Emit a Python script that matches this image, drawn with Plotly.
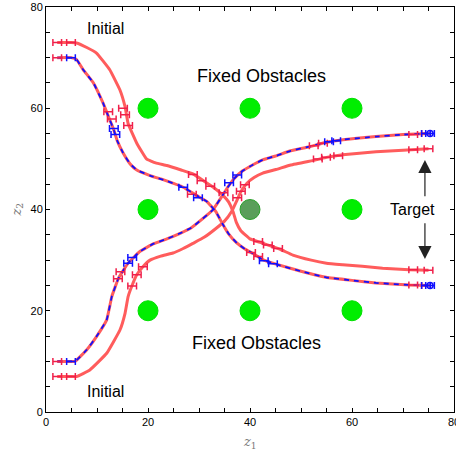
import plotly.graph_objects as go

# ---------------- data ----------------
# obstacle centres
obs_x = [20, 40, 60, 20, 40, 60, 20, 40, 60]
obs_y = [60, 60, 60, 40, 40, 40, 20, 20, 20]
obs_kind = ["fixed", "fixed", "fixed", "fixed", "moving", "fixed", "fixed", "fixed", "fixed"]

# trajectory 1: upper, outer (solid red)
up_out_x = [2.2, 4.9, 6.0, 8.0, 9.9, 12.5, 14.5, 15.5, 16.1, 17.8, 19.7, 21.5, 23.7, 26.5, 28.9,
            31.0, 32.8, 34.5, 35.8, 36.7, 37.3, 38.2, 40.0, 42.0, 44.0, 46.0, 48.4, 52.0, 55.0,
            58.2, 62.0, 66.0, 71.2, 75.0]
up_out_y = [73.0, 73.0, 72.9, 72.0, 70.9, 67.6, 63.6, 60.3, 57.0, 53.1, 50.0, 49.2, 48.7, 47.8, 47.0,
            45.6, 44.4, 43.0, 41.5, 39.5, 37.5, 35.8, 34.2, 33.5, 32.8, 32.1, 31.0, 30.0, 29.4,
            29.1, 28.8, 28.4, 28.1, 28.0]

# trajectory 2: upper, inner (red + blue dashed)
up_in_x = [2.2, 4.9, 6.0, 7.3, 9.3, 11.2, 12.5, 13.2, 14.0, 15.1, 16.5, 17.8, 20.4, 23.5, 26.9,
           29.5, 31.5, 33.3, 34.6, 35.8, 37.4, 39.0, 40.6, 42.5, 45.1, 50.0, 54.9, 60.0, 64.7,
           71.2, 75.0]
up_in_y = [70.0, 70.0, 69.6, 67.6, 65.0, 61.0, 57.7, 56.0, 53.5, 51.2, 49.0, 47.8, 46.7, 45.7, 44.4,
           42.8, 41.6, 39.6, 37.2, 35.2, 33.4, 32.2, 31.3, 30.1, 29.2, 27.8, 26.6, 26.0, 25.5,
           25.1, 25.0]

# trajectory 3: lower, inner (red + blue dashed)
lo_in_x = [2.2, 4.9, 5.7, 8.0, 9.9, 11.9, 12.9, 14.2, 16.1, 18.4, 21.0, 23.7, 26.3, 28.5, 30.5,
           32.7, 34.3, 35.5, 37.0, 38.5, 40.5, 42.5, 45.1, 48.0, 51.6, 55.0, 58.2, 64.7, 70.0, 75.0]
lo_in_y = [10.0, 10.0, 10.0, 12.3, 14.9, 18.2, 22.8, 26.4, 29.4, 31.7, 33.2, 34.2, 35.3, 36.4, 38.0,
           39.9, 42.3, 44.2, 46.2, 47.6, 48.8, 49.8, 50.6, 51.6, 52.4, 53.3, 53.8, 54.4, 54.8, 55.0]

# trajectory 4: lower, outer (solid red)
lo_out_x = [2.2, 4.9, 6.0, 8.6, 11.9, 14.5, 15.5, 16.1, 16.8, 17.8, 19.0, 20.4, 22.5, 24.9, 26.9,
            28.8, 31.0, 33.5, 35.0, 36.4, 37.3, 38.2, 39.4, 40.8, 42.5, 45.1, 48.0, 52.9, 55.0,
            58.2, 64.7, 70.0, 75.0]
lo_out_y = [7.0, 7.0, 7.0, 8.3, 11.6, 16.2, 19.5, 22.8, 24.8, 27.1, 28.7, 30.0, 30.8, 31.4, 32.3,
            33.3, 34.5, 36.4, 37.7, 39.6, 41.5, 43.5, 45.2, 46.3, 47.2, 47.9, 48.8, 49.8, 50.3,
            50.8, 51.4, 51.7, 52.0]

# sample markers (error-bar points)
m_up_out_x = [2.2, 4.9, 15.1, 15.5, 16.1, 28.8, 30.5, 32.2, 41.6, 43.5, 45.5, 72.0, 75.0]
m_up_out_y = [73.0, 73.0, 60.0, 58.7, 56.6, 46.9, 45.7, 44.6, 33.7, 33.0, 32.3, 28.1, 28.0]
m_up_in_red_x = [2.2, 12.2, 12.9, 28.6, 40.2, 41.6, 72.0, 74.5]
m_up_in_red_y = [70.0, 59.3, 57.9, 43.0, 31.5, 30.7, 25.1, 25.0]
m_up_in_blue_x = [4.9, 13.3, 13.6, 26.9, 29.8, 42.7, 44.5, 74.5, 75.3]
m_up_in_blue_y = [70.0, 56.0, 54.8, 44.4, 42.3, 29.9, 29.3, 25.0, 25.0]
m_lo_in_red_x = [2.2, 14.1, 14.6, 34.8, 52.5, 54.3, 72.0, 74.5]
m_lo_in_red_y = [10.0, 26.3, 27.7, 43.3, 52.6, 53.1, 54.8, 55.0]
m_lo_in_blue_x = [4.9, 16.1, 16.9, 35.9, 37.5, 55.5, 56.9, 74.5, 75.3]
m_lo_in_blue_y = [10.0, 29.4, 30.5, 45.3, 46.8, 53.4, 53.6, 55.0, 55.0]
m_lo_out_x = [2.2, 4.9, 16.9, 17.8, 19.0, 37.5, 38.2, 39.0, 53.3, 54.9, 57.3, 72.0, 75.0]
m_lo_out_y = [7.0, 7.0, 24.9, 27.1, 28.7, 42.3, 43.6, 44.9, 50.0, 50.3, 50.6, 51.8, 52.0]

x_ticks = list(range(0, 81, 5))
x_labels = [str(v) if v % 20 == 0 else "" for v in x_ticks]
y_ticks = list(range(0, 81, 5))
y_labels = [str(v) if v % 20 == 0 else "" for v in y_ticks]

# ---------------- styling ----------------
RED = "#ff5c5c"
RED_BAR = "#f0204a"
BLUE = "#1010ff"
FONT = "Liberation Sans, Arial, sans-serif"

fig = go.Figure()

# obstacles
fig.add_trace(go.Scatter(
    x=obs_x, y=obs_y, mode="markers", hoverinfo="skip", showlegend=False,
    marker=dict(size=20,
                color=["#00ee00" if k == "fixed" else "#5a9e5a" for k in obs_kind],
                line=dict(width=1, color=["#00e000" if k == "fixed" else "#2aa02a" for k in obs_kind])),
))

def line(x, y, color, width, dash="solid"):
    fig.add_trace(go.Scatter(x=x, y=y, mode="lines", showlegend=False, hoverinfo="skip",
                             line=dict(color=color, width=width, dash=dash, shape="spline", smoothing=0.3)))

def bars(x, y, color, end_circle=False):
    fig.add_trace(go.Scatter(
        x=x, y=y, mode="markers", showlegend=False, hoverinfo="skip",
        marker=dict(size=1, color=color, opacity=0),
        error_x=dict(type="data", array=[0.85] * len(x), visible=True,
                     color=color, thickness=1.5, width=3.5),
    ))
    if end_circle:
        fig.add_trace(go.Scatter(
            x=[x[-1]], y=[y[-1]], mode="markers", showlegend=False, hoverinfo="skip",
            marker=dict(size=6, symbol="circle-open", color=color, line=dict(width=1.5, color=color)),
        ))

line(up_out_x, up_out_y, RED, 3)
line(lo_out_x, lo_out_y, RED, 3)
line(up_in_x, up_in_y, RED, 3)
line(lo_in_x, lo_in_y, RED, 3)
line(up_in_x, up_in_y, BLUE, 1.8, "5px,5px")
line(lo_in_x, lo_in_y, BLUE, 1.8, "5px,5px")

bars(m_up_out_x, m_up_out_y, RED_BAR)
bars(m_lo_out_x, m_lo_out_y, RED_BAR)
bars(m_up_in_red_x, m_up_in_red_y, RED_BAR)
bars(m_lo_in_red_x, m_lo_in_red_y, RED_BAR)
bars(m_up_in_blue_x, m_up_in_blue_y, BLUE, end_circle=True)
bars(m_lo_in_blue_x, m_lo_in_blue_y, BLUE, end_circle=True)

# text labels
texts = [("Initial", 11.7, 75.7, 16), ("Initial", 11.7, 4.0, 16),
         ("Fixed Obstacles", 42.2, 66.3, 18), ("Fixed Obstacles", 41.3, 13.6, 18),
         ("Target", 71.9, 40.0, 16)]
for t, x, y, s in texts:
    fig.add_annotation(x=x, y=y, text=t, showarrow=False, xref="x", yref="y",
                       font=dict(family=FONT, size=s, color="black"))

# arrows from Target
for tail, head in [(42.3, 49.8), (37.6, 30.2)]:
    fig.add_annotation(x=74.3, y=head, ax=74.3, ay=tail, xref="x", yref="y", axref="x", ayref="y",
                       text="", showarrow=True, arrowhead=2, arrowsize=2.2, arrowwidth=1.2,
                       arrowcolor="#222")

# axis titles as annotations (paper coords)
TITLE_FONT = dict(family="DejaVu Serif, serif", size=13, color="#777")
fig.add_annotation(x=0.5, y=0, xref="paper", yref="paper", yshift=-30, yanchor="middle",
                   text="<i>z</i><sub>1</sub>", showarrow=False, font=TITLE_FONT)
fig.add_annotation(x=0, y=0.5, xref="paper", yref="paper", xshift=-29, xanchor="center",
                   text="<i>z</i><sub>2</sub>", showarrow=False, textangle=-90, font=TITLE_FONT)

axis_common = dict(range=[0, 80], showline=True, linecolor="black", linewidth=1, mirror="ticks",
                   ticks="inside", ticklen=4, tickcolor="black", tickwidth=1, showgrid=False,
                   zeroline=False, automargin=False, ticklabeloverflow="allow",
                   tickfont=dict(family=FONT, size=11, color="#000000"))

fig.update_xaxes(**axis_common, tickvals=x_ticks, ticktext=x_labels)
fig.update_yaxes(**axis_common, tickvals=y_ticks, ticktext=y_labels)

fig.update_layout(template="none", width=456, height=450, margin=dict(l=46, r=2, t=7, b=38),
                  plot_bgcolor="white", paper_bgcolor="white",
                  font=dict(family=FONT, color="#000000"))

# remove the page's default body margin so the 456x450 figure fills the window exactly
fig.write_html("out.html", config={"responsive": False, "displayModeBar": False},
               post_script="document.body.style.margin='0';document.body.style.overflow='hidden';")
